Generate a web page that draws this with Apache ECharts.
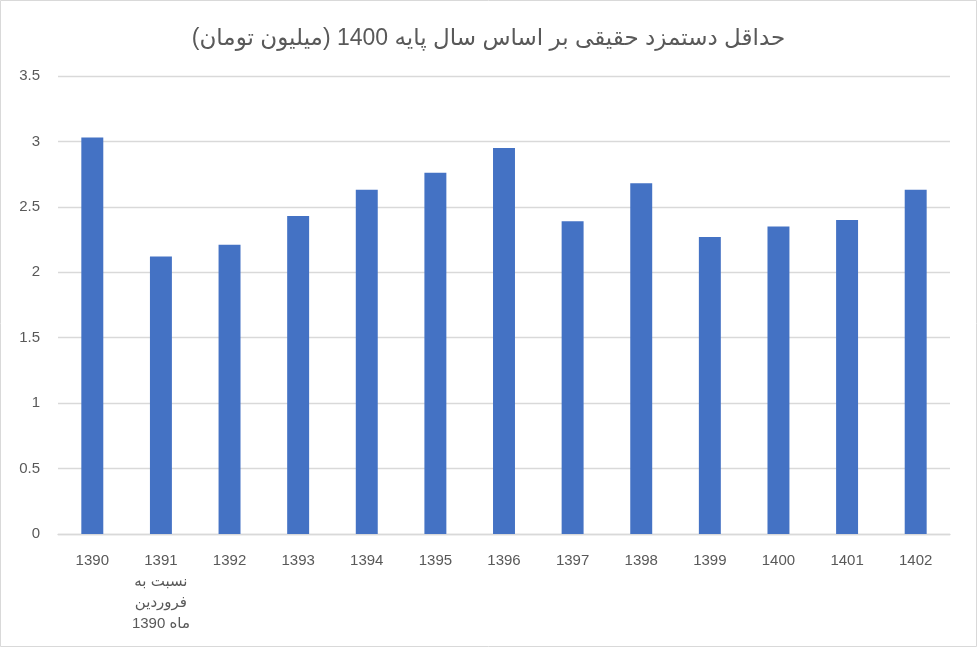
<!DOCTYPE html>
<html>
<head>
<meta charset="utf-8">
<script src="https://cdn.jsdelivr.net/npm/echarts@6/dist/echarts.min.js"></script>
<style>
html,body{margin:0;padding:0;background:#fff;}
#c{width:977px;height:647px;direction:rtl;}
</style>
</head>
<body>
<div id="c"></div>
<script>
const titleText = 'حداقل دستمزد حقیقی بر اساس سال پایه 1400 (میلیون تومان)';
const categories = ['1390', '1391\nنسبت به\nفروردین\nماه 1390', '1392', '1393', '1394', '1395', '1396', '1397', '1398', '1399', '1400', '1401', '1402'];
const values = [3.03, 2.12, 2.21, 2.43, 2.63, 2.76, 2.95, 2.39, 2.68, 2.27, 2.35, 2.40, 2.63];
const yTicks = [0, 0.5, 1, 1.5, 2, 2.5, 3, 3.5];

const chart = echarts.init(document.getElementById('c'), null, {renderer: 'canvas'});
const font = 'Arial, "Liberation Sans", "DejaVu Sans", sans-serif';
chart.setOption({
  animation: false,
  backgroundColor: '#fff',
  textStyle: {fontFamily: font},
  title: {
    text: titleText,
    left: 'center',
    top: 22,
    textStyle: {fontSize: 23, fontWeight: 'normal', color: '#595959', fontFamily: font}
  },
  graphic: [{
    type: 'rect',
    shape: {x: 0.5, y: 0.5, width: 976, height: 646},
    style: {fill: 'none', stroke: '#d9d9d9', lineWidth: 1},
    silent: true
  }],
  grid: {left: 58, right: 27, top: 76, bottom: 113},
  xAxis: {
    type: 'category',
    data: categories,
    axisLine: {lineStyle: {color: '#d9d9d9', width: 1.3}},
    axisTick: {show: false},
    axisLabel: {color: '#595959', fontSize: 15, margin: 16, lineHeight: 21, interval: 0, fontFamily: font}
  },
  yAxis: {
    type: 'value',
    min: yTicks[0],
    max: yTicks[yTicks.length - 1],
    interval: 0.5,
    axisLine: {show: false},
    axisTick: {show: false},
    axisLabel: {color: '#595959', fontSize: 15, margin: 18, fontFamily: font},
    splitLine: {lineStyle: {color: '#d9d9d9', width: 1.3}}
  },
  series: [{
    type: 'bar',
    data: values,
    barWidth: '32%',
    itemStyle: {color: '#4472c4'}
  }]
});
</script>
</body>
</html>
